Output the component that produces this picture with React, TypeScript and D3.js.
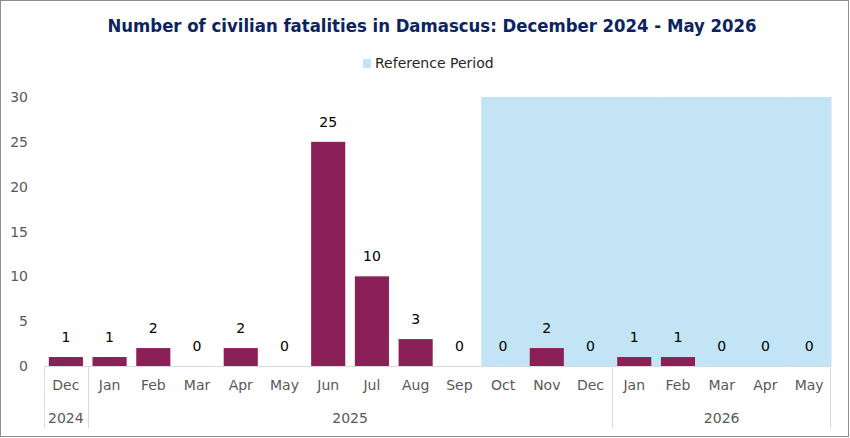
import React from "react";
import * as d3 from "d3";

const months = ["Dec", "Jan", "Feb", "Mar", "Apr", "May", "Jun", "Jul", "Aug", "Sep", "Oct", "Nov", "Dec", "Jan", "Feb", "Mar", "Apr", "May"];
const years = ["2024", "2025", "2025", "2025", "2025", "2025", "2025", "2025", "2025", "2025", "2025", "2025", "2025", "2026", "2026", "2026", "2026", "2026"];
const fatalities = [1, 1, 2, 0, 2, 0, 25, 10, 3, 0, 0, 2, 0, 1, 1, 0, 0, 0];
const referencePeriod = [0, 0, 0, 0, 0, 0, 0, 0, 0, 0, 30, 30, 30, 30, 30, 30, 30, 30];
const yTicks = [0, 5, 10, 15, 20, 25, 30];

const W = 850;
const H = 438;
const margin = { left: 44, right: 19, top: 97, bottom: 72 };
const FONT = "'DejaVu Sans', Verdana, sans-serif";

export default function App() {
  const keys = months.map((_, i) => String(i));
  const x = d3.scaleBand<string>().domain(keys).range([margin.left, W - margin.right]).paddingInner(0.22).paddingOuter(0.11);
  const xBand = d3.scaleBand<string>().domain(keys).range([margin.left, W - margin.right]).padding(0);
  const y = d3.scaleLinear().domain([0, 30]).range([H - margin.bottom, margin.top]);
  const y0 = y(0);

  // year groups from consecutive labels
  const groups: { year: string; start: number; end: number }[] = [];
  years.forEach((yr, i) => {
    const g = groups[groups.length - 1];
    if (g && g.year === yr) g.end = i;
    else groups.push({ year: yr, start: i, end: i });
  });
  const step = xBand.bandwidth();

  return (
    <svg width={W} height={H} style={{ position: "absolute", left: 0, top: 0, background: "#fff" }}>
      <rect x={0.5} y={0.5} width={W - 2} height={H - 2} fill="#fff" stroke="#8c8c8c" strokeWidth={1} />
      <text x={432} y={32} textAnchor="middle" fontFamily="'DejaVu Sans Condensed', 'DejaVu Sans', sans-serif" fontWeight="bold" fontSize={17} fill="#0b2361" textLength={649} lengthAdjust="spacingAndGlyphs">
        Number of civilian fatalities in Damascus: December 2024 - May 2026
      </text>
      <rect x={363} y={59} width={8} height={9} fill="#c2e4f4" />
      <text x={375} y={68} fontFamily={FONT} fontSize={14} fill="#262626">Reference Period</text>

      {/* reference period band */}
      {referencePeriod.map((v, i) =>
        v > 0 ? (
          <rect key={"r" + i} x={xBand(String(i))!} y={y(v)} width={step + 0.5} height={y0 - y(v)} fill="#c2e4f4" />
        ) : null
      )}

      {/* y axis labels */}
      {yTicks.map((t) => (
        <text key={t} x={28} y={y(t) + 5} textAnchor="end" fontFamily={FONT} fontSize={14} fill="#595959">
          {t}
        </text>
      ))}

      {/* bars */}
      {fatalities.map((v, i) => (
        <g key={"b" + i}>
          <rect x={x(String(i))!} y={y(v)} width={x.bandwidth()} height={y0 - y(v)} fill="#8b1f57" />
          <text x={x(String(i))! + x.bandwidth() / 2} y={y(v) - 15} textAnchor="middle" fontFamily={FONT} fontSize={14} fill="#000">
            {v}
          </text>
        </g>
      ))}

      {/* category axis */}
      <line x1={margin.left} x2={W - margin.right} y1={y0 + 0.5} y2={y0 + 0.5} stroke="#d9d9d9" />
      {months.map((m, i) => (
        <text key={"m" + i} x={xBand(String(i))! + step / 2} y={y0 + 24} textAnchor="middle" fontFamily={FONT} fontSize={14} fill="#595959">
          {m}
        </text>
      ))}
      {groups.map((g, gi) => {
        const xs = xBand(String(g.start))!;
        const xe = xBand(String(g.end))! + step;
        return (
          <g key={"g" + gi}>
            <line x1={Math.round(xs) + 0.5} x2={Math.round(xs) + 0.5} y1={y0} y2={H - 10} stroke="#d9d9d9" />
            {gi === groups.length - 1 && (
              <line x1={Math.round(xe) - 0.5} x2={Math.round(xe) - 0.5} y1={y0} y2={H - 10} stroke="#d9d9d9" />
            )}
            <text x={(xs + xe) / 2} y={y0 + 57} textAnchor="middle" fontFamily={FONT} fontSize={14} fill="#595959">
              {g.year}
            </text>
          </g>
        );
      })}
    </svg>
  );
}
